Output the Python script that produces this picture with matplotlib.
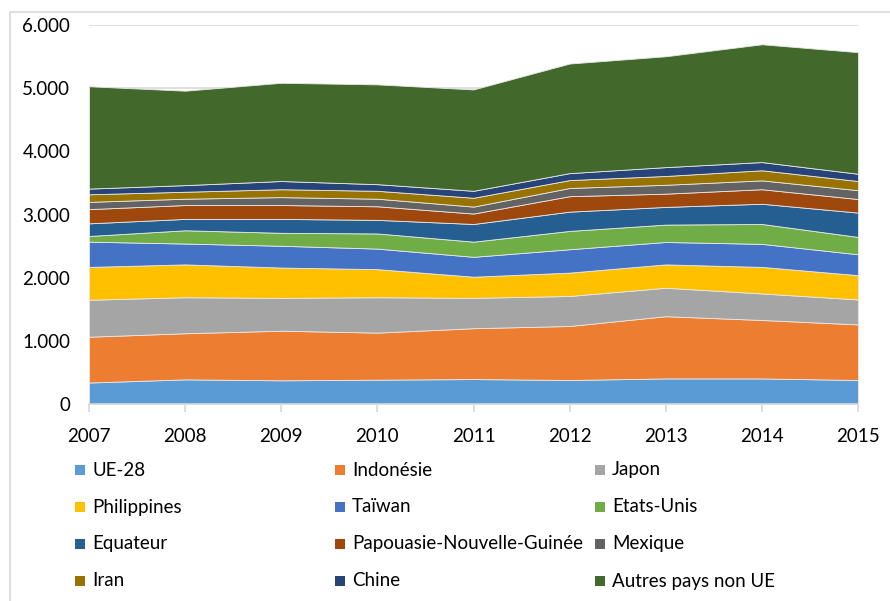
import matplotlib
matplotlib.use("Agg")
import matplotlib.pyplot as plt
from matplotlib.patches import Rectangle
import numpy as np

years = [2007, 2008, 2009, 2010, 2011, 2012, 2013, 2014, 2015]

ue28        = [340, 390, 375, 385, 395, 380, 405, 405, 380]
indonesie   = [725, 730, 785, 745, 805, 855, 985, 925, 880]
japon       = [585, 570, 520, 560, 480, 475, 450, 420, 395]
philippines = [520, 520, 480, 445, 335, 370, 370, 420, 385]
taiwan      = [400, 330, 345, 325, 315, 370, 355, 365, 330]
etats_unis  = [90, 210, 205, 240, 240, 290, 275, 315, 275]
equateur    = [200, 180, 220, 215, 280, 305, 280, 320, 385]
png         = [225, 220, 220, 215, 165, 245, 210, 230, 215]
mexique     = [115, 100, 125, 120, 110, 130, 140, 140, 140]
iran        = [120, 110, 125, 125, 140, 125, 140, 160, 145]
chine       = [90, 105, 130, 105, 110, 110, 140, 130, 115]
autres      = [1620, 1495, 1555, 1580, 1605, 1735, 1755, 1865, 1925]

series_names = ["UE-28", "Indonésie", "Japon", "Philippines", "Taïwan", "Etats-Unis",
                "Equateur", "Papouasie-Nouvelle-Guinée", "Mexique", "Iran", "Chine",
                "Autres pays non UE"]
series = [ue28, indonesie, japon, philippines, taiwan, etats_unis, equateur, png,
          mexique, iran, chine, autres]
colors = ["#5B9BD5", "#ED7D31", "#A5A5A5", "#FFC000", "#4472C4", "#70AD47",
          "#255E91", "#9E480E", "#636363", "#997300", "#264478", "#43682B"]

yticks = [0, 1000, 2000, 3000, 4000, 5000, 6000]
ytick_labels = ["0", "1.000", "2.000", "3.000", "4.000", "5.000", "6.000"]

plt.rcParams["font.family"] = ["Lato", "DejaVu Sans"]

W, H = 890, 601
fig = plt.figure(figsize=(W / 100, H / 100), dpi=100)

# chart border
fig.patches.append(Rectangle((10 / W, -0.1), 1.2, 1 - 12 / H + 0.1, transform=fig.transFigure,
                             fill=False, edgecolor="#D9D9D9", linewidth=1.2))

ax = fig.add_axes([89 / W, 1 - 404 / H, (858 - 89) / W, (404 - 25) / H])
ax.stackplot(years, *series, colors=colors, edgecolor="#E8E8E8", linewidth=0.6, zorder=2)

ax.set_xlim(years[0], years[-1])
ax.set_ylim(0, 6000)
ax.set_yticks(yticks)
ax.set_yticklabels(ytick_labels)
ax.set_xticks(years)
ax.set_xticklabels([str(y) for y in years])
ax.yaxis.grid(True, color="#D9D9D9", linewidth=1.2, zorder=0)
ax.set_axisbelow(True)
for s in ["top", "right", "left"]:
    ax.spines[s].set_visible(False)
ax.spines["bottom"].set_color("#D9D9D9")
ax.spines["bottom"].set_linewidth(1.2)
ax.tick_params(axis="y", length=0, pad=13.5, labelsize=13.5)
ax.tick_params(axis="x", length=6, width=1.2, color="#D9D9D9", pad=11, labelsize=13.5)
for lbl in ax.get_xticklabels() + ax.get_yticklabels():
    lbl.set_color("black")

# legend (row-wise, 3 columns)
for i, (name, c) in enumerate(zip(series_names, colors)):
    row, col = divmod(i, 3)
    x0 = 75 + col * 260
    yc = 470 + row * 37
    fig.patches.append(Rectangle((x0 / W, 1 - (yc + 5) / H), 10 / W, 10 / H,
                                 transform=fig.transFigure, facecolor=c, edgecolor="none"))
    fig.text((x0 + 17) / W, 1 - yc / H, name, fontsize=13.5, va="center", ha="left", color="black")

fig.savefig("out.png", dpi=100)
